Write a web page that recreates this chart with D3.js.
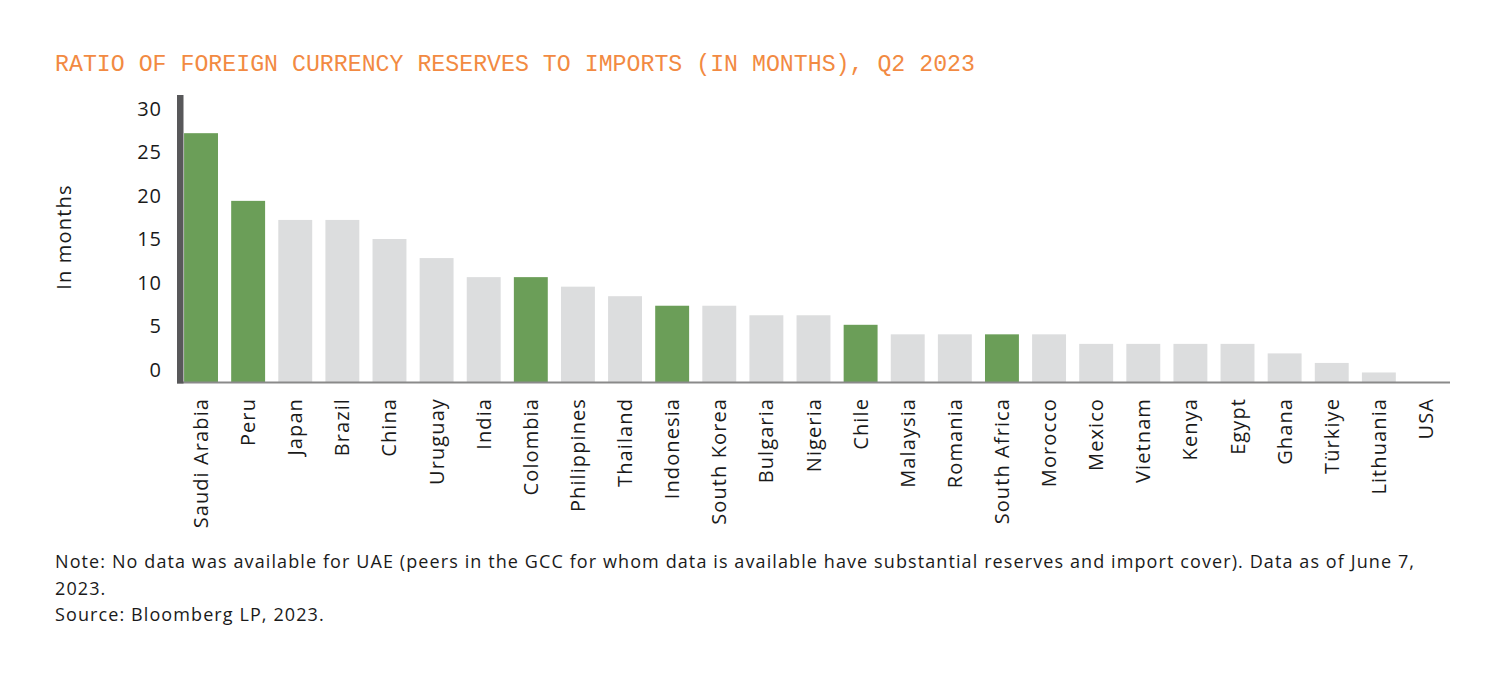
<!DOCTYPE html>
<html><head><meta charset="utf-8">
<script src="https://cdn.jsdelivr.net/npm/d3@7"></script>
<style>
html,body{margin:0;padding:0;background:#fff;}
svg{display:block;font-family:"Open Sans","Noto Sans",sans-serif;}
</style></head>
<body>
<svg id="chart" width="1500" height="677"></svg>
<script>
const countries = ["Saudi Arabia","Peru","Japan","Brazil","China","Uruguay","India","Colombia","Philippines","Thailand","Indonesia","South Korea","Bulgaria","Nigeria","Chile","Malaysia","Romania","South Africa","Morocco","Mexico","Vietnam","Kenya","Egypt","Ghana","Türkiye","Lithuania","USA"];
const months = [26.1,19,17,17,15,13,11,11,10,9,8,8,7,7,6,5,5,5,5,4,4,4,4,3,2,1,0];
const highlighted = ["Saudi Arabia","Peru","Colombia","Indonesia","Chile","South Africa"];
const yTicks = [0,5,10,15,20,25,30];
const titleText = "RATIO OF FOREIGN CURRENCY RESERVES TO IMPORTS (IN MONTHS), Q2 2023";
const yTitle = "In months";
const noteLines = ["Note: No data was available for UAE (peers in the GCC for whom data is available have substantial reserves and import cover). Data as of June 7,","2023.","Source: Bloomberg LP, 2023."];

const data = countries.map((c,i)=>({country:c, value:months[i]}));
const svg = d3.select("#chart");
const FONT = "'Open Sans','Noto Sans',sans-serif";

const x = d3.scaleBand().domain(countries).range([177,1450]).paddingInner(0.28).paddingOuter(0.15);
const y = d3.scaleLinear().domain([0,30]).range([382,96]);
const yLab = d3.scaleLinear().domain([0,30]).range([370,109]);

// title
svg.append("text").attr("x",55).attr("y",71)
  .attr("font-family","'Liberation Mono','DejaVu Sans Mono',monospace")
  .attr("font-size",23.5).attr("fill","#f28a42")
  .attr("textLength",920).attr("lengthAdjust","spacingAndGlyphs")
  .text(titleText);

// bars
svg.append("g").selectAll("rect").data(data).join("rect")
  .attr("x",d=>x(d.country)).attr("width",x.bandwidth())
  .attr("y",d=>y(d.value)).attr("height",d=>y(0)-y(d.value))
  .attr("fill",d=>highlighted.includes(d.country)?"#6b9e58":"#dcddde");

// baseline
svg.append("line").attr("x1",177).attr("x2",1450).attr("y1",y(0)+0.5).attr("y2",y(0)+0.5)
  .attr("stroke","#8a8a8a").attr("stroke-width",2);
// left axis bar
svg.append("rect").attr("x",177).attr("y",95).attr("width",6.5).attr("height",y(0)-95+1.5).attr("fill","#58585a");

// y tick labels
const ya = svg.append("g").attr("transform","translate(162,0)")
  .call(d3.axisLeft(yLab).tickValues(yTicks).tickSize(0).tickPadding(0));
ya.select(".domain").remove();
ya.selectAll("text").attr("font-family",FONT).attr("font-size",20).attr("letter-spacing","1px").attr("fill","#1a1a1a");

// y title
svg.append("text").attr("transform","translate(71,237) rotate(-90)")
  .attr("text-anchor","middle").attr("font-family",FONT).attr("font-size",20).attr("letter-spacing","1.2px").attr("fill","#1a1a1a").text(yTitle);

// x labels
const xa = svg.append("g").attr("transform","translate(0,392)")
  .call(d3.axisBottom(x).tickSize(0).tickPadding(0));
xa.select(".domain").remove();
xa.selectAll("text").attr("font-family",FONT).attr("font-size",20).attr("letter-spacing","1.1px").attr("fill","#1a1a1a")
  .attr("text-anchor","end").attr("transform","rotate(-90)").attr("x",-6).attr("dy","0.35em").attr("y",0);

// notes
svg.append("g").selectAll("text").data(noteLines).join("text")
  .attr("font-family",FONT).attr("letter-spacing","1.1px")
  .attr("x",55).attr("y",(d,i)=>568+i*26.5).attr("font-size",18).attr("fill","#1a1a1a").text(d=>d);
</script>
</body></html>
